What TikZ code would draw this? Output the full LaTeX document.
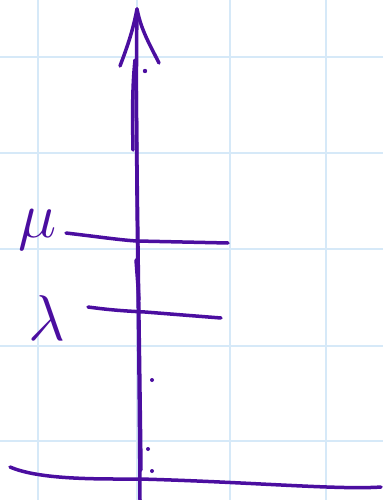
\documentclass[tikz,border=0pt]{standalone}
\definecolor{ink}{RGB}{75,14,160}
\definecolor{gridblue}{RGB}{214,233,248}
\begin{document}
\begin{tikzpicture}[x=1pt,y=-1pt,
  gridline/.style={gridblue,line width=2.5pt},
  pen/.style={ink,line width=3.5pt,line cap=round,line join=round},
  lbl/.style={ink,inner sep=0pt,scale=2.6,font=\Huge}]
\useasboundingbox (0,0) rectangle (383,500);
\fill[white] (0,0) rectangle (383,500);
% grid
\foreach \x in {38,137,230,326} \draw[gridline] (\x,0) -- (\x,500);
\foreach \y in {57,153,249,346,441} \draw[gridline] (0,\y) -- (383,\y);
% axis
\coordinate (top) at (137,9);
\coordinate (bot) at (140,500);
\coordinate (bl) at (120,66);
\coordinate (br) at (159,63);
\draw[pen] (bot) .. controls (139,300) and (135,150) .. (top);
\draw[pen] (141,470) .. controls (140,380) and (137,200) .. (136,60);
\draw[pen] (133,150) .. controls (132,100) and (133,80) .. (135,60);
\draw[pen] (136,260) -- (139,300);
\draw[pen] (bl) .. controls (128,45) and (133,30) .. (top) .. controls (141,30) and (150,45) .. (br);
% ticks
\coordinate (m1) at (66,233);
\coordinate (m2) at (228,243);
\coordinate (l1) at (88,307);
\coordinate (l2) at (221,318);
\draw[pen] (m1) .. controls (100,237) and (120,240) .. (137,241) -- (m2);
\draw[pen] (l1) .. controls (110,310) and (125,311) .. (145,312) -- (l2);
% labels
\node[lbl] (mu) at (38,230) {$\mu$};
\node[lbl] (la) at (47,318) {$\lambda$};
% baseline
\coordinate (b1) at (10,467);
\coordinate (b2) at (381,487);
\draw[pen] (b1) .. controls (40,480) and (100,479) .. (140,479) .. controls (250,482) and (340,490) .. (b2);
% small marks
\fill[ink] (145,71) circle (2.2pt);
\fill[ink] (152,380) circle (2pt);
\fill[ink] (148,449) circle (2pt);
\fill[ink] (152,471) circle (2pt);
\end{tikzpicture}
\end{document}
